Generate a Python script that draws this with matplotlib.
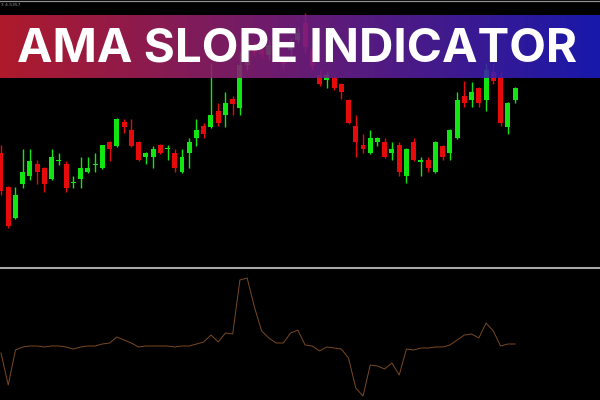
import numpy as np
import matplotlib
matplotlib.use("Agg")
import matplotlib.pyplot as plt
from matplotlib.lines import Line2D

# ---- data (price units) ----
opens = [147,113,82,116,124,136,132,121,139,136,117,121,128,135,132,158,154,178,170,158,
         143,143,155,151,147,128,147,162,174,173,189,185,201,192,235,255,250,245,252,242,
         250,260,277,250,225,220,222,216,200,174,155,147,158,158,147,155,124,158,138,140,
         128,154,147,162,204,200,212,200,228,223,173,200]
highs = [155,114,113,151,151,140,133,151,147,139,124,143,143,147,155,159,182,181,181,159,
         148,154,156,155,151,151,162,181,177,237,197,208,204,248,262,258,254,260,265,245,
         262,272,287,253,230,228,224,217,201,185,166,170,163,162,158,158,152,162,143,143,
         159,155,171,208,219,218,213,237,237,228,198,213]
lows = [105,72,81,112,120,116,108,120,135,108,112,112,127,128,131,139,153,167,153,139,
        136,132,146,140,128,127,132,154,162,172,174,173,185,185,230,244,242,240,245,232,
        245,258,247,230,214,212,210,201,176,143,147,146,154,142,140,124,117,139,124,128,
        127,140,140,161,193,193,193,189,216,174,166,197]
closes = [109,74,105,128,139,128,116,143,140,112,118,132,132,136,155,151,181,173,154,140,
          147,151,147,152,132,143,158,170,166,185,177,197,196,235,257,248,246,255,260,236,
          258,267,253,234,216,225,212,208,177,158,151,162,162,143,151,128,151,140,140,132,
          158,143,170,200,197,208,197,230,219,177,197,212]
slope = [-7,-39,-4,-1,0,0,-1,0,0,-1,-3,-1,0,0,2,3,9,6,3,-1,
         0,0,0,0,-1,0,0,2,4,11,4,13,12,66,68,39,15,8,3,3,
         13,16,1,0,-5,-1,-2,-3,-12,-42,-50,-19,-20,-23,-17,-29,-3,-4,-2,-2,
         -1,-1,1,6,11,12,8,23,15,0,2,2]
title = "AMA SLOPE INDICATOR"
corner_label = "3 4.5357"

W, H = 600, 400
fig = plt.figure(figsize=(6, 4), dpi=100, facecolor="black")

def fy(px):  # pixel row from top -> figure fraction
    return 1 - px / H

x = np.arange(len(opens))
spacing = 7.24
x0 = 1.0
xlim = (-x0 / spacing, (W - x0) / spacing)

# ---- price panel ----
ax = fig.add_axes([0, fy(266), 1, 264 / H])
ax.set_facecolor("black")
ax.set_xlim(*xlim)
ax.set_ylim(300 - 266, 300 - 2)
ax.axis("off")

green, red = "#12e612", "#e60a0a"
o = np.array(opens); c = np.array(closes)
cols = [green if cc >= oo else red for oo, cc in zip(o, c)]
ax.vlines(x, lows, highs, colors=cols, linewidth=1.0)
bottoms = np.minimum(o, c)
heights = np.maximum(np.abs(c - o), 1.2)
ax.bar(x, heights, bottom=bottoms, width=0.69, color=cols, linewidth=0)

# ---- indicator panel ----
ax2 = fig.add_axes([0, 0, 1, 132 / H])
ax2.set_facecolor("black")
ax2.set_xlim(*xlim)
ax2.set_ylim(-54, 78)
ax2.axis("off")
ax2.plot(x, slope, color="#7a4a22", linewidth=0.7)

# separator and top line
fig.add_artist(Line2D([0, 1], [fy(267.5), fy(267.5)], color="#a8a8a8", linewidth=1.5))
fig.add_artist(Line2D([0, 1], [fy(0.6), fy(0.6)], color="#909090", linewidth=0.9))
fig.text(0.002, fy(4.5), corner_label, color="#9a9a9a", fontsize=3.2, va="center", ha="left")

# ---- banner ----
bax = fig.add_axes([0, fy(78), 1, 63 / H])
bax.axis("off")
stops = np.array([[200, 30, 50], [118, 32, 132], [28, 28, 195]]) / 255.0
t = np.linspace(0, 1, 600)
grad = np.empty((1, 600, 3))
for k in range(3):
    grad[0, :, k] = np.interp(t, [0, 0.5, 1], stops[:, k])
bax.imshow(grad, aspect="auto", extent=[0, 1, 0, 1], alpha=0.88)
bax.set_xlim(0, 1); bax.set_ylim(0, 1)

txt = fig.text(297 / W, fy(62), title, color="white", fontsize=36.5,
               fontfamily="Inter", fontweight="bold", ha="center", va="baseline")
# fit the title to the banner width seen in the reference (~561 px)
fig.canvas.draw()
w = txt.get_window_extent(fig.canvas.get_renderer()).width
txt.set_fontsize(36.5 * 561.0 / w)

fig.savefig("out.png", dpi=100, facecolor="black")
